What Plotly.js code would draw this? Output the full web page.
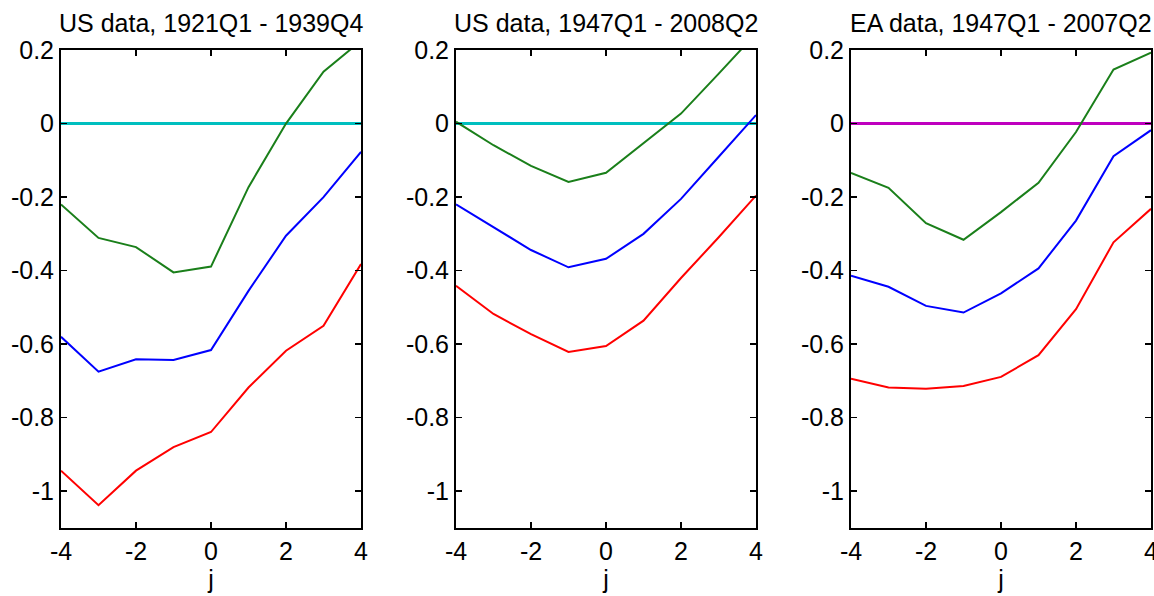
<!DOCTYPE html>
<html>
<head>
<meta charset="utf-8">
<script src="https://cdn.plot.ly/plotly-3.0.1.min.js"></script>
<style>
html,body{margin:0;padding:0;background:#fff;}
#chart{width:1154px;height:596px;}
</style>
</head>
<body>
<div id="chart"></div>
<script>
// Horizon j
const j = [-4, -3, -2, -1, 0, 1, 2, 3, 4];

// Panel titles
const panelTitles = ["US data, 1921Q1 - 1939Q4", "US data, 1947Q1 - 2008Q2", "EA data, 1947Q1 - 2007Q2"];

// Panel 1: US 1921Q1-1939Q4
const us1Green = [-0.220, -0.311, -0.336, -0.405, -0.389, -0.173, 0.000, 0.141, 0.225];
const us1Blue  = [-0.580, -0.675, -0.641, -0.643, -0.616, -0.455, -0.305, -0.200, -0.077];
const us1Red   = [-0.944, -1.038, -0.944, -0.880, -0.839, -0.718, -0.618, -0.550, -0.382];

// Panel 2: US 1947Q1-2008Q2
const us2Green = [0.005, -0.059, -0.115, -0.159, -0.134, -0.054, 0.027, 0.135, 0.245];
const us2Blue  = [-0.220, -0.282, -0.344, -0.391, -0.368, -0.300, -0.205, -0.091, 0.023];
const us2Red   = [-0.441, -0.518, -0.573, -0.621, -0.605, -0.536, -0.420, -0.310, -0.196];

// Panel 3: EA 1947Q1-2007Q2
const eaGreen = [-0.134, -0.175, -0.271, -0.316, -0.241, -0.161, -0.023, 0.147, 0.193];
const eaBlue  = [-0.414, -0.444, -0.496, -0.514, -0.462, -0.394, -0.264, -0.089, -0.018];
const eaRed   = [-0.694, -0.718, -0.721, -0.714, -0.689, -0.630, -0.505, -0.323, -0.232];

// Reference line at zero
const zeroLine = [0, 0, 0, 0, 0, 0, 0, 0, 0];

// Axis ticks
const xTicks = [-4, -2, 0, 2, 4];
const xTickText = ["-4", "-2", "0", "2", "4"];
const yTicks = [-1, -0.8, -0.6, -0.4, -0.2, 0, 0.2];
const yTickText = ["-1", "-0.8", "-0.6", "-0.4", "-0.2", "0", "0.2"];

const panels = [
  {green: us1Green, blue: us1Blue, red: us1Red, ref: '#00BFBF'},
  {green: us2Green, blue: us2Blue, red: us2Red, ref: '#00BFBF'},
  {green: eaGreen,  blue: eaBlue,  red: eaRed,  ref: '#BF00BF'}
];

const FONT = '"Liberation Sans", Arial, Helvetica, sans-serif';
const TICK = 25;
const traces = [];
panels.forEach((p, i) => {
  const xa = i === 0 ? 'x' : 'x' + (i + 1);
  const ya = i === 0 ? 'y' : 'y' + (i + 1);
  traces.push({x: j, y: zeroLine, xaxis: xa, yaxis: ya, mode: 'lines', line: {color: p.ref, width: 3}, hoverinfo: 'skip'});
  traces.push({x: j, y: p.blue, xaxis: xa, yaxis: ya, mode: 'lines', line: {color: '#0000FF', width: 2}});
  traces.push({x: j, y: p.green, xaxis: xa, yaxis: ya, mode: 'lines', line: {color: '#1A7F1A', width: 2}});
  traces.push({x: j, y: p.red, xaxis: xa, yaxis: ya, mode: 'lines', line: {color: '#FF0000', width: 2}});
});

const W = 1090;
const domains = [[0, 300 / W], [395 / W, 695 / W], [790 / W, 1]];

const layout = {
  width: 1154, height: 596,
  margin: {l: 61, r: 3, t: 50, b: 68, pad: 0},
  paper_bgcolor: '#fff', plot_bgcolor: '#fff',
  showlegend: false,
  font: {family: FONT, size: TICK, color: '#000'},
  annotations: []
};

for (let i = 0; i < 3; i++) {
  const s = i === 0 ? '' : String(i + 1);
  layout['xaxis' + s] = {
    domain: domains[i], anchor: 'y' + s, range: [-4, 4],
    tickmode: 'array', tickvals: xTicks, ticktext: xTickText,
    ticks: 'inside', ticklen: 6, tickwidth: 1.5, tickcolor: '#000',
    showline: true, linecolor: '#000', linewidth: 2, mirror: 'ticks',
    showgrid: false, zeroline: false, ticklabeloverflow: 'allow',
    tickfont: {family: FONT, size: TICK, color: '#000'},
    title: {text: 'j', font: {family: FONT, size: TICK, color: '#000'}, standoff: 2}
  };
  layout['yaxis' + s] = {
    domain: [0, 1], anchor: 'x' + s, range: [-1.1, 0.2],
    tickmode: 'array', tickvals: yTicks, ticktext: yTickText,
    ticks: 'inside', ticklen: 6, tickwidth: 1.5, tickcolor: '#000',
    showline: true, linecolor: '#000', linewidth: 2, mirror: 'ticks',
    showgrid: false, zeroline: false, ticklabeloverflow: 'allow',
    tickfont: {family: FONT, size: TICK, color: '#000'}
  };
  layout.annotations.push({
    text: panelTitles[i], xref: 'x' + s + ' domain', yref: 'paper',
    x: 0.5, y: 1, xanchor: 'center', yanchor: 'bottom', yshift: 11,
    showarrow: false, font: {family: FONT, size: 25, color: '#000'}
  });
}

Plotly.newPlot('chart', traces, layout, {displayModeBar: false, staticPlot: true});
</script>
</body>
</html>
